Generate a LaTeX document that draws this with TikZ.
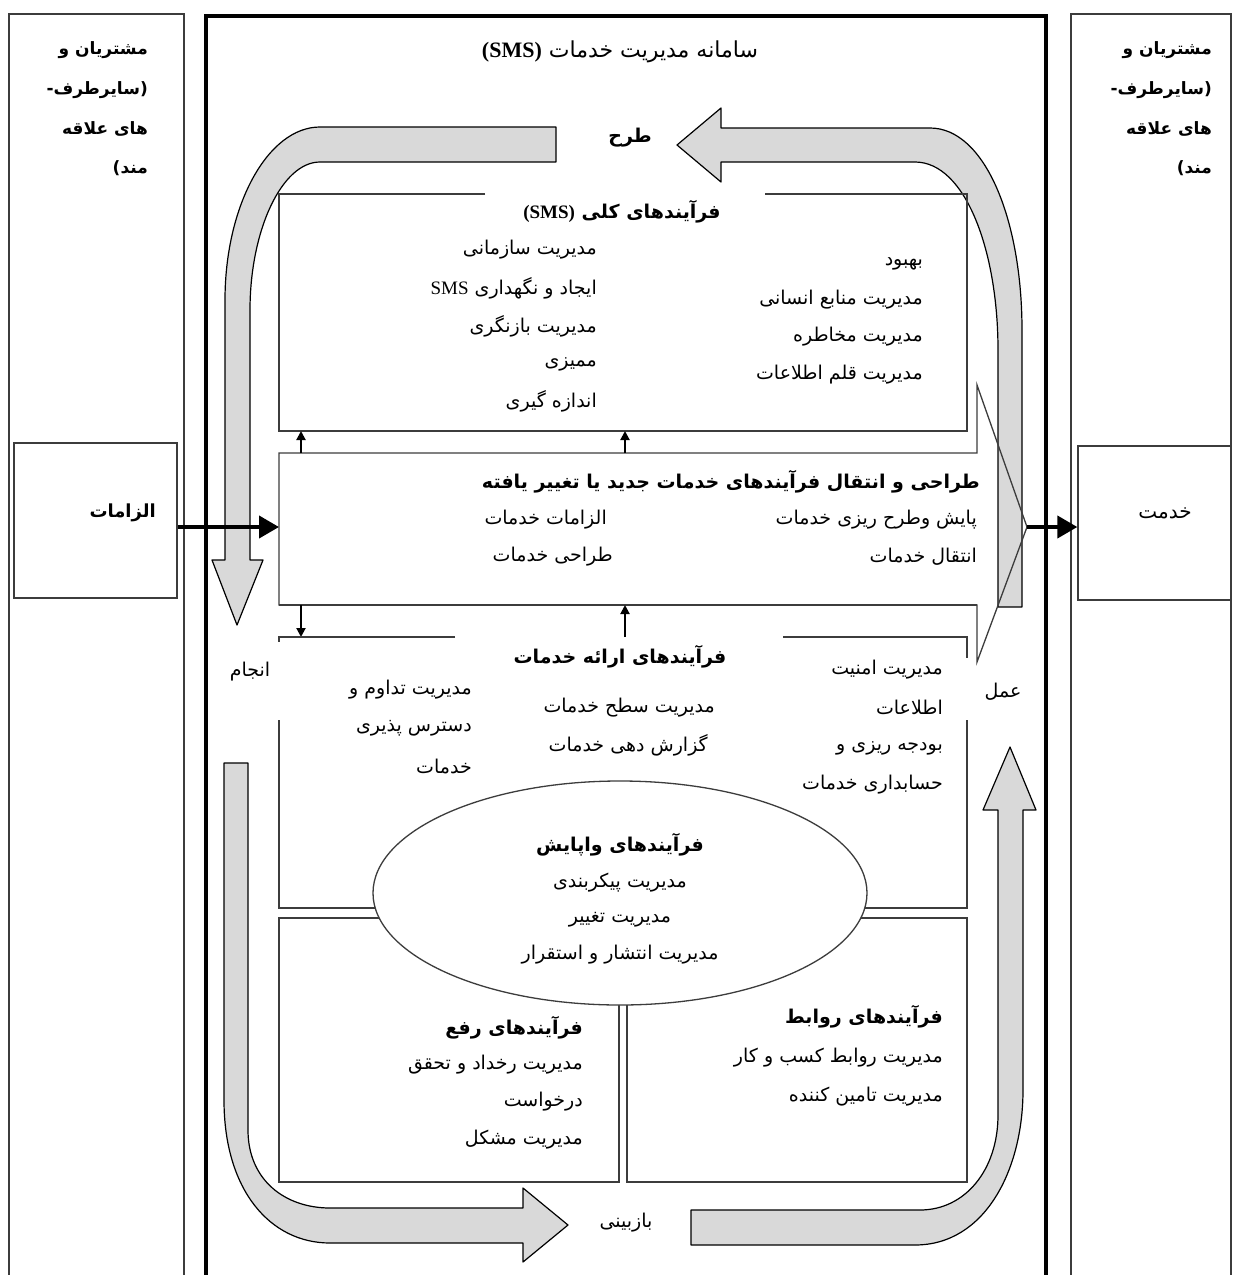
\documentclass[tikz,border=0pt]{standalone}
\usepackage{fontspec}
\setmainfont{DejaVu Sans}
\newfontfamily\fafont[Script=Arabic]{DejaVu Sans}
\newfontfamily\latfont{Liberation Serif}
\usetikzlibrary{arrows.meta,shapes.geometric}
\TeXXeTstate=1
\newcommand{\fatxt}[1]{{\fafont\beginR #1\endR}}
\definecolor{bandgray}{RGB}{217,217,217}
\definecolor{linegray}{RGB}{60,60,60}

\begin{document}
\begin{tikzpicture}[x=1pt,y=-1pt,
    frame/.style={draw=linegray,line width=1.3pt},
    mainframe/.style={draw=black,line width=4pt},
    band/.style={draw=black,line width=1.2pt,fill=bandgray,line join=round},
    bigarrow/.style={line width=4pt,-{Triangle[length=20pt,width=22pt]}},
    tinyarrow/.style={line width=2pt,-{Triangle[length=9pt,width=9pt]}},
    lbl/.style={font=\fontsize{19}{22}\selectfont,inner sep=0pt},
    head/.style={font=\fontsize{19}{22}\selectfont\bfseries,inner sep=0pt},
    party/.style={font=\fontsize{17}{20}\selectfont\bfseries,inner sep=0pt,anchor=east}]
    \useasboundingbox (0,0) rectangle (1233,1275);
    \fill[white] (0,0) rectangle (1233,1275);

    % Customers and other parties
    \draw[frame] (9,1275) -- (9,14) -- (184,14) -- (184,1275);
    \draw[frame] (1071,1275) -- (1071,14) -- (1231,14) -- (1231,1275);
    \node[party] (cl1) at (148,50) {\fatxt{مشتریان و}};
    \node[party] (cl2) at (148,90) {\fatxt{(سایرطرف-}};
    \node[party] (cl3) at (148,129) {\fatxt{های علاقه}};
    \node[party] (cl4) at (148,168) {\fatxt{مند)}};
    \node[party] (cr1) at (1212,50) {\fatxt{مشتریان و}};
    \node[party] (cr2) at (1212,90) {\fatxt{(سایرطرف-}};
    \node[party] (cr3) at (1212,129) {\fatxt{های علاقه}};
    \node[party] (cr4) at (1212,168) {\fatxt{مند)}};

    % Requirements and service
    \node[frame,minimum width=163pt,minimum height=155pt,inner sep=0pt] (req) at (95.5,520.5) {};
    \node[head,font=\fontsize{18}{21}\selectfont\bfseries,anchor=east] (reqlbl) at (156,513) {\fatxt{الزامات}};
    \node[frame,minimum width=153pt,minimum height=154pt,inner sep=0pt] (srv) at (1154.5,523) {};
    \node[lbl,font=\fontsize{20}{23}\selectfont] (srvlbl) at (1165,513) {\fatxt{خدمت}};

    % Service management system
    \draw[mainframe] (206,1275) -- (206,16) -- (1046,16) -- (1046,1275);
    \node[lbl,font=\fontsize{22}{26}\selectfont] (title) at (620,52) {\fatxt{سامانه مدیریت خدمات {\latfont\bfseries\beginL(SMS)\endL}}};

    % Plan - do - check - act bands
    \draw[band] (556,127) -- (320,127) .. controls (268,127) and (225,205) .. (225,300)
        -- (225,560) -- (212,560) -- (237,625) -- (263,560) -- (250,560) -- (250,310)
        .. controls (250,230) and (282,162) .. (320,162) -- (556,162) -- cycle;
    \draw[band] (1022,607) -- (1022,330) .. controls (1022,220) and (985,128) .. (930,128)
        -- (721,128) -- (721,108) -- (677,145) -- (721,182) -- (721,162) -- (915,162)
        .. controls (965,162) and (998,250) .. (998,350) -- (998,607) -- cycle;
    \draw[band] (224,763) -- (224,1100) .. controls (224,1190) and (270,1243) .. (330,1243)
        -- (523,1243) -- (523,1262) -- (568,1225) -- (523,1188) -- (523,1208) -- (330,1208)
        .. controls (285,1208) and (248,1180) .. (248,1130) -- (248,763) -- cycle;
    \draw[band] (691,1210) -- (920,1210) .. controls (965,1210) and (998,1170) .. (998,1115)
        -- (998,810) -- (983,810) -- (1010,747) -- (1036,810) -- (1023,810) -- (1023,1090)
        .. controls (1023,1170) and (985,1245) .. (915,1245) -- (691,1245) -- cycle;
    \node[head] (plan) at (630,138) {\fatxt{طرح}};
    \node[lbl] (do) at (250,672) {\fatxt{انجام}};
    \node[lbl] (act) at (1003,692) {\fatxt{عمل}};
    \node[lbl] (check) at (626,1223) {\fatxt{بازبینی}};

    % General processes
    \draw[frame] (485,194) -- (279,194) -- (279,431) -- (967,431) -- (967,194) -- (765,194);
    \node[head] (gen) at (622,212) {\fatxt{فرآیندهای کلی {\latfont\beginL(SMS)\endL}}};
    \node[lbl,anchor=east] (g1) at (597,250) {\fatxt{مدیریت سازمانی}};
    \node[lbl,anchor=east] (g2) at (597,288) {\fatxt{ایجاد و نگهداری \beginL{\latfont SMS}\endL}};
    \node[lbl,anchor=east] (g3) at (597,326) {\fatxt{مدیریت بازنگری}};
    \node[lbl,anchor=east] (g4) at (597,364) {\fatxt{ممیزی}};
    \node[lbl,anchor=east] (g5) at (597,401) {\fatxt{اندازه گیری}};
    \node[lbl,anchor=east] (g6) at (923,264) {\fatxt{بهبود}};
    \node[lbl,anchor=east] (g7) at (923,300) {\fatxt{مدیریت منابع انسانی}};
    \node[lbl,anchor=east] (g8) at (923,337) {\fatxt{مدیریت مخاطره}};
    \node[lbl,anchor=east] (g9) at (923,375) {\fatxt{مدیریت قلم اطلاعات}};

    % Design and transition
    \draw[frame] (279,453) -- (977,453) -- (977,385) -- (1027,527) -- (977,662)
        -- (977,605) -- (279,605) -- cycle;
    \draw[linegray,line width=2.5pt] (279,605) -- (977,605);
    \coordinate (midin) at (279,527);
    \coordinate (midtip) at (1027,527);
    \node[head,anchor=east] (dt) at (980,482) {\fatxt{طراحی و انتقال فرآیندهای خدمات جدید یا تغییر یافته}};
    \node[lbl,anchor=east] (d1) at (977,520) {\fatxt{پایش وطرح ریزی خدمات}};
    \node[lbl,anchor=east] (d2) at (977,557) {\fatxt{انتقال خدمات}};
    \node[lbl,anchor=east] (d3) at (607,520) {\fatxt{الزامات خدمات}};
    \node[lbl,anchor=east] (d4) at (613,557) {\fatxt{طراحی خدمات}};
    \draw[bigarrow] (req.east |- midin) -- (midin);
    \draw[bigarrow] (midtip) -- (srv.west |- midtip);

    % Links between the layers
    \coordinate (a1) at (301,453); \coordinate (a2) at (301,431);
    \coordinate (b1) at (625,453); \coordinate (b2) at (625,431);
    \coordinate (c1) at (301,605); \coordinate (c2) at (301,637);
    \coordinate (e1) at (625,637); \coordinate (e2) at (625,605);
    \draw[tinyarrow] (a1) -- (a2);
    \draw[tinyarrow] (b1) -- (b2);
    \draw[tinyarrow] (c1) -- (c2);
    \draw[tinyarrow] (e1) -- (e2);

    % Service delivery processes
    \draw[frame] (455,637) -- (279,637) -- (279,642);
    \draw[frame] (783,637) -- (967,637) -- (967,658);
    \draw[frame] (279,720) -- (279,908) -- (967,908) -- (967,720);
    \node[head] (sd) at (620,657) {\fatxt{فرآیندهای ارائه خدمات}};
    \node[lbl,anchor=east] (s1) at (472,690) {\fatxt{مدیریت تداوم و}};
    \node[lbl,anchor=east] (s2) at (472,728) {\fatxt{دسترس پذیری}};
    \node[lbl,anchor=east] (s3) at (472,767) {\fatxt{خدمات}};
    \node[lbl,anchor=east] (s4) at (715,708) {\fatxt{مدیریت سطح خدمات}};
    \node[lbl,anchor=east] (s5) at (708,745) {\fatxt{گزارش دهی خدمات}};
    \node[lbl,anchor=east] (s6) at (943,670) {\fatxt{مدیریت امنیت}};
    \node[lbl,anchor=east] (s7) at (943,707) {\fatxt{اطلاعات}};
    \node[lbl,anchor=east] (s8) at (943,748) {\fatxt{بودجه ریزی و}};
    \node[lbl,anchor=east] (s9) at (943,785) {\fatxt{حسابداری خدمات}};

    % Resolution and relationship processes
    \draw[frame] (279,918) rectangle (619,1182);
    \draw[frame] (627,918) rectangle (967,1182);
    \node[head,anchor=east] (r0) at (583,1028) {\fatxt{فرآیندهای رفع}};
    \node[lbl,anchor=east] (r1) at (583,1065) {\fatxt{مدیریت رخداد و تحقق}};
    \node[lbl,anchor=east] (r2) at (583,1102) {\fatxt{درخواست}};
    \node[lbl,anchor=east] (r3) at (583,1140) {\fatxt{مدیریت مشکل}};
    \node[head,anchor=east] (v0) at (943,1017) {\fatxt{فرآیندهای روابط}};
    \node[lbl,anchor=east] (v1) at (943,1058) {\fatxt{مدیریت روابط کسب و کار}};
    \node[lbl,anchor=east] (v2) at (943,1097) {\fatxt{مدیریت تامین کننده}};

    % Control processes
    \node[frame,ellipse,fill=white,minimum width=494pt,minimum height=224pt] (ctrl) at (620,893) {};
    \node[head] (c0) at (620,845) {\fatxt{فرآیندهای واپایش}};
    \node[lbl] (k1) at (620,883) {\fatxt{مدیریت پیکربندی}};
    \node[lbl] (k2) at (620,920) {\fatxt{مدیریت تغییر}};
    \node[lbl] (k3) at (620,955) {\fatxt{مدیریت انتشار و استقرار}};
\end{tikzpicture}
\end{document}
